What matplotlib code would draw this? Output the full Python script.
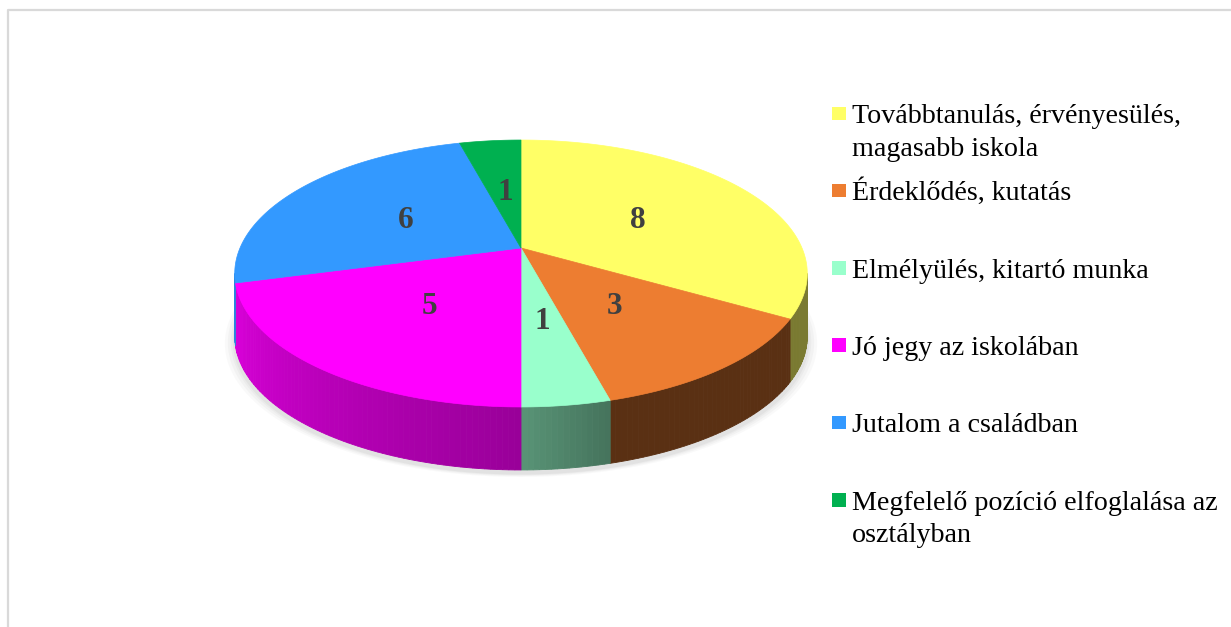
import numpy as np
import matplotlib
matplotlib.use('Agg')
import matplotlib.pyplot as plt
from matplotlib.patches import Polygon, Rectangle
import matplotlib.colors as mcolors

categories = ["Továbbtanulás, érvényesülés,\nmagasabb iskola",
              "Érdeklődés, kutatás",
              "Elmélyülés, kitartó munka",
              "Jó jegy az iskolában",
              "Jutalom a családban",
              "Megfelelő pozíció elfoglalása az\nosztályban"]
values = [8, 3, 1, 5, 6, 1]
colors = ["#FFFF66", "#ED7D31", "#99FFCC", "#FF00FF", "#3399FF", "#00B050"]
# side shading factor (at slice start angle, at slice end angle)
side_shade = [(0.48, 0.48), (0.38, 0.38), (0.45, 0.58), (0.60, 0.86), (0.86, 0.88), (0.8, 0.8)]

W, H = 1231, 627
fig = plt.figure(figsize=(W / 100, H / 100), dpi=100)
ax = fig.add_axes([0, 0, 1, 1])
ax.set_xlim(0, W)
ax.set_ylim(H, 0)
ax.axis('off')

# frame
ax.plot([8, 8, W + 5], [H + 5, 10, 10], color="#d9d9d9", lw=1.6, solid_capstyle='butt')

CX, CY = 521.0, 248.0
A, B, K = 128.6, 281.0, 0.191
DEPTH = 63.0


def proj(theta_deg, r=1.0, dz=0.0):
    t = np.radians(theta_deg)
    u = r * np.cos(t)
    v = r * np.sin(t)
    d = 1 + K * v
    return CX + B * u / d, CY - A * v / d + dz


def shade(c, f):
    rgb = np.array(mcolors.to_rgb(c))
    return tuple(np.clip(rgb * f, 0, 1))


total = float(sum(values))
starts = []
a = 90.0
for val in values:
    span = 360.0 * val / total
    starts.append((a, a - span))
    a -= span

# shadow
th = np.linspace(0, 360, 361)
for i, (grow, al) in enumerate([(10, 0.04), (7, 0.05), (4, 0.06), (2, 0.08)]):
    xs, ys = proj(th, 1.0, DEPTH + 4)
    xs = CX + (xs - CX) * (1 + grow / 290.0)
    ys = ys + grow * 0.3
    ax.add_patch(Polygon(np.column_stack([xs, ys]), closed=True, fc='#7f7f7f',
                         ec='none', alpha=al, zorder=1))

# side faces
asinK = np.degrees(np.arcsin(K))
vis_hi, vis_lo = -asinK, -180 + asinK
for (t0, t1), c, (f0, f1) in zip(starts, colors, side_shade):
    for off in (0, 360, -360):
        a0, a1 = t0 + off, t1 + off
        hi = min(a0, vis_hi)
        lo = max(a1, vis_lo)
        if hi <= lo:
            continue
        n = max(2, int((hi - lo) / 1.0))
        edges = np.linspace(hi, lo, n + 1)
        for j in range(n):
            e0, e1 = edges[j], edges[j + 1]
            tt = np.linspace(e0, e1, 4)
            xt, yt = proj(tt, 1.0, 0)
            xb, yb = proj(tt[::-1], 1.0, DEPTH)
            frac = ((e0 + e1) / 2 - a0) / (a1 - a0)
            f = f0 + (f1 - f0) * frac
            col = shade(c, f)
            ax.add_patch(Polygon(np.column_stack([np.r_[xt, xb], np.r_[yt, yb]]),
                                 closed=True, fc=col, ec=col, lw=0.6, zorder=2))

# top faces
for (t0, t1), c in zip(starts, colors):
    tt = np.linspace(t0, t1, 200)
    xs, ys = proj(tt, 1.0, 0)
    pts = np.column_stack([np.r_[CX, xs], np.r_[CY, ys]])
    ax.add_patch(Polygon(pts, closed=True, fc=c, ec=c, lw=0.5, zorder=3))

# labels
for (t0, t1), val in zip(starts, values):
    mid = (t0 + t1) / 2
    x, y = proj(mid, 0.5, 0)
    ax.text(x + 1, y + 3, str(val), ha='center', va='center', fontsize=22.5,
            fontweight='bold', family='Liberation Serif', color='#404040', zorder=5)

# legend
base0, step, line_h = 123, 77.3, 33
for i, (lab, c) in enumerate(zip(categories, colors)):
    yb = base0 + i * step
    ax.add_patch(Rectangle((832, yb - 16.5), 13.5, 13.5, fc=c, ec='none', zorder=5))
    for k, line in enumerate(lab.split('\n')):
        ax.text(852, yb + k * line_h, line, ha='left', va='baseline', fontsize=20.2,
                family='Liberation Serif', color='black', zorder=5)

fig.savefig('out.png', dpi=100)
